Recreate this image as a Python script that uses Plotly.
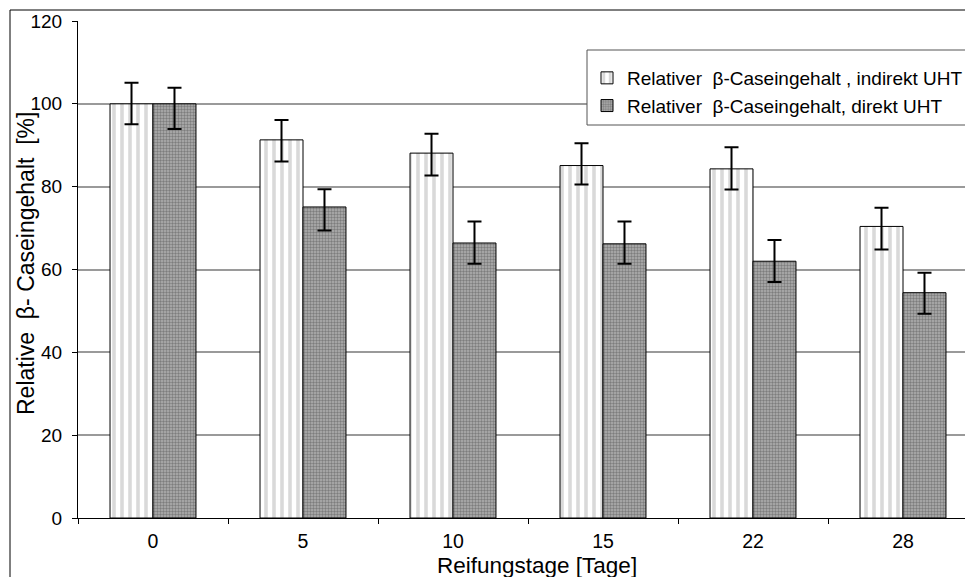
import plotly.graph_objects as go

categories = ["0", "5", "10", "15", "22", "28"]
indirect = [100, 91.3, 88.1, 85.1, 84.3, 70.4]
ind_plus = [5.1, 4.8, 4.7, 5.4, 5.2, 4.5]
ind_minus = [4.9, 5.2, 5.4, 4.6, 5.0, 5.6]
direct = [100, 75.1, 66.4, 66.2, 62.0, 54.4]
dir_plus = [3.9, 4.3, 5.2, 5.4, 5.1, 4.8]
dir_minus = [6.1, 5.7, 5.0, 4.8, 5.0, 5.1]
y_ticks = [0, 20, 40, 60, 80, 100, 120]

name_ind = "Relativer\u00a0\u00a0β-Caseingehalt , indirekt UHT"
name_dir = "Relativer\u00a0\u00a0β-Caseingehalt, direkt UHT"
x_title = "Reifungstage [Tage]"
y_title = "Relative\u00a0\u00a0β- Caseingehalt\u00a0\u00a0[%]"

FONT = "Liberation Sans"

fig = go.Figure()
fig.add_trace(go.Bar(
    x=categories, y=indirect, name=name_ind,
    marker=dict(color="white", line=dict(color="black", width=1),
                pattern=dict(shape="|", fgcolor="#b4b4b4", bgcolor="white",
                             size=8, solidity=0.45)),
    error_y=dict(type="data", array=ind_plus, arrayminus=ind_minus,
                 color="black", thickness=2, width=7),
))
fig.add_trace(go.Bar(
    x=categories, y=direct, name=name_dir,
    marker=dict(color="#888888", line=dict(color="black", width=1),
                pattern=dict(shape=".", fgcolor="#4a4a4a", bgcolor="#b0b0b0",
                             size=3, solidity=0.5)),
    error_y=dict(type="data", array=dir_plus, arrayminus=dir_minus,
                 color="black", thickness=2, width=7),
))

W, H = 965, 577
L, T = 78, 21
B = H - 518
R = 0
pw = W - L - R
ph = H - T - B
cat_px = 150.0

def px_x(p):
    return (p - L) / pw

def px_y(p):
    return (H - B - p) / ph

fig.update_layout(
    width=W, height=H,
    margin=dict(l=L, r=R, t=T, b=B, autoexpand=False),
    paper_bgcolor="white", plot_bgcolor="white",
    barmode="group", bargap=0.427, bargroupgap=0,
    font=dict(family=FONT, size=20, color="black"),
    showlegend=True,
    legend=dict(x=px_x(587), y=px_y(59), xanchor="left", yanchor="top",
                bgcolor="rgba(0,0,0,0)", borderwidth=0,
                font=dict(family=FONT, size=19, color="black"),
                traceorder="normal", itemwidth=30,
                tracegroupgap=0),
    xaxis=dict(
        type="category", automargin=False,
        range=[-0.5, -0.5 + pw / cat_px],
        showline=True, linecolor="black", linewidth=1,
        ticks="outside", tickson="boundaries", ticklen=5, tickcolor="black",
        showgrid=False,
        ticklabelstandoff=6,
        tickfont=dict(family=FONT, size=19.5),
    ),
    yaxis=dict(
        range=[0, 120], tickvals=y_ticks, automargin=False,
        showline=True, linecolor="black", linewidth=1,
        ticks="outside", ticklen=5, tickcolor="black",
        showgrid=True, gridcolor="#9a9a9a", gridwidth=1.5,
        zeroline=False,
        ticklabelstandoff=6,
        tickfont=dict(family=FONT, size=19),
    ),
    annotations=[
        dict(text=x_title, xref="paper", yref="paper",
             x=px_x(537), y=px_y(565), xanchor="center", yanchor="middle",
             showarrow=False, font=dict(family=FONT, size=22.5)),
        dict(text=y_title, xref="paper", yref="paper",
             x=px_x(26), y=px_y(264), xanchor="center", yanchor="middle",
             textangle=-90, showarrow=False, font=dict(family=FONT, size=23)),
    ],
)

# outer chart border (left and top edges; the rest lies outside the window)
fig.add_shape(type="line", xref="paper", yref="paper",
              x0=px_x(10), x1=px_x(10), y0=px_y(600), y1=px_y(10),
              line=dict(color="black", width=1), layer="below")
fig.add_shape(type="line", xref="paper", yref="paper",
              x0=px_x(10), x1=px_x(990), y0=px_y(10), y1=px_y(10),
              line=dict(color="black", width=1), layer="below")
# legend box (white fill, grey border)
fig.add_shape(type="rect", xref="paper", yref="paper",
              x0=px_x(587), x1=px_x(990), y0=px_y(125), y1=px_y(50),
              line=dict(color="#555555", width=1), fillcolor="white",
              layer="above")

fig.write_html(
    "out.html",
    config={"displayModeBar": False},
    post_script="document.body.style.margin='0';document.body.style.overflow='hidden';",
)
